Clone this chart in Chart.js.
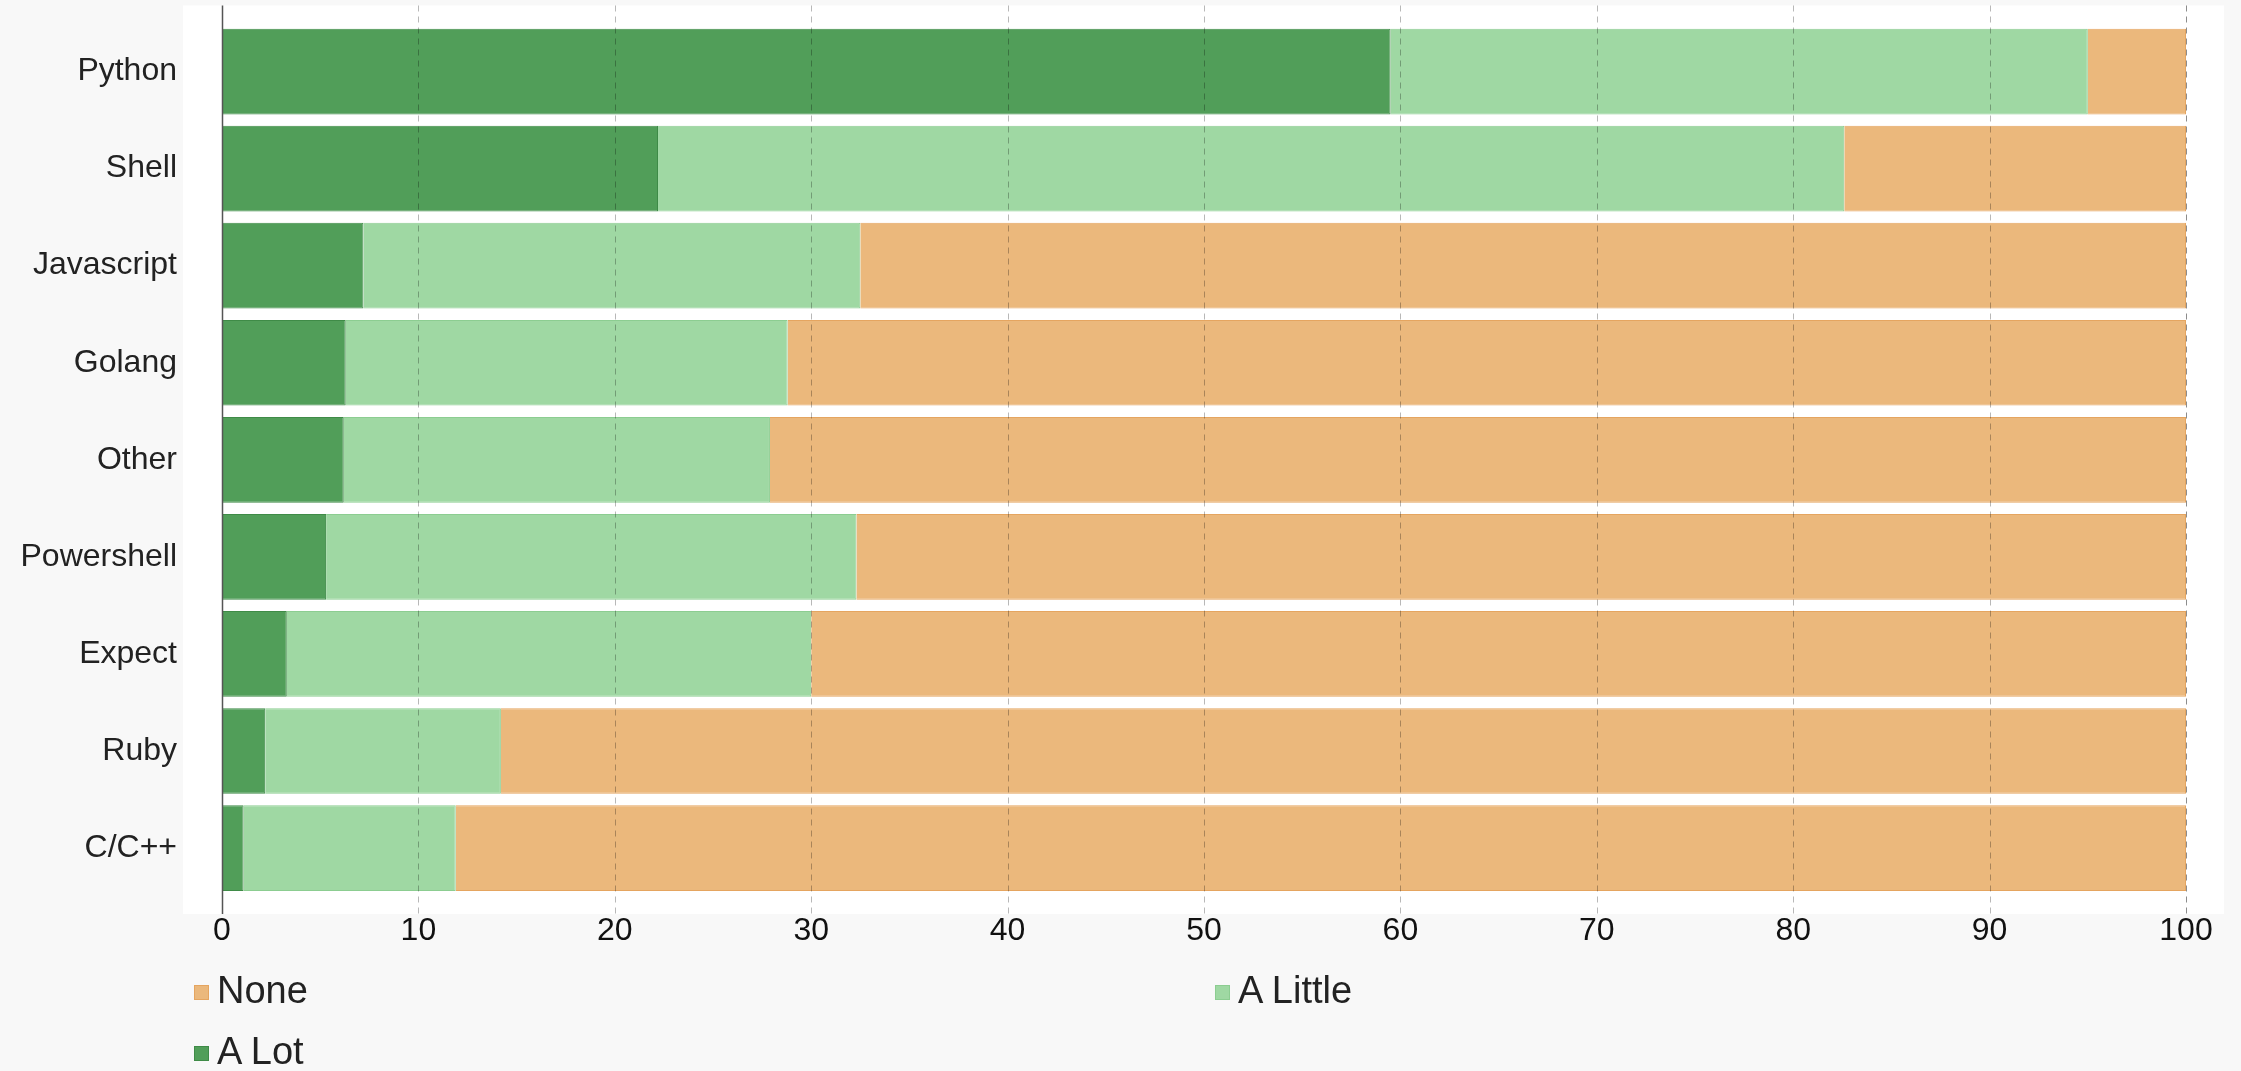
<!DOCTYPE html>
<html>
<head>
<meta charset="utf-8">
<title>Language usage</title>
<script src="https://cdn.jsdelivr.net/npm/chart.js@4.4.1/dist/chart.umd.min.js"></script>
<style>
    html, body {
        margin: 0;
        padding: 0;
        background: #f8f8f8;
        font-family: "Liberation Sans", Arial, Helvetica, sans-serif;
    }
    #wrap {
        position: relative;
        width: 2241px;
        height: 1071px;
        overflow: hidden;
    }
    #chart {
        position: absolute;
        left: 0;
        top: 0;
    }
    #legend {
        position: absolute;
        left: 183px;
        top: 960px;
        width: 2042px;
        display: grid;
        grid-template-columns: 1fr 1fr;
    }
    .legend-item {
        display: flex;
        align-items: center;
        padding-left: 11px;
        height: 61px;
        line-height: 61px;
        font-size: 38px;
        color: #222;
    }
    .legend-box {
        width: 13px;
        height: 13px;
        margin-right: 8px;
        margin-top: 3px;
        border: 1px solid;
    }
</style>
</head>
<body>
<div id="wrap">
    <canvas id="chart" width="2241" height="1071"></canvas>
    <div id="legend"></div>
</div>
<script>
// categories, top to bottom
const categories = ['Python', 'Shell', 'Javascript', 'Golang', 'Other', 'Powershell', 'Expect', 'Ruby', 'C/C++'];

// share of answers (%)
const aLot    = [59.5, 22.2,  7.2,  6.3,  6.2,  5.3,  3.3,  2.2,  1.1];
const aLittle = [35.5, 60.4, 25.3, 22.5, 21.7, 27.0, 26.7, 12.0, 10.8];
const none    = [ 5.0, 17.4, 67.5, 71.2, 72.1, 67.7, 70.0, 85.8, 88.1];

// x axis tick labels
const xTickValues = [0, 10, 20, 30, 40, 50, 60, 70, 80, 90, 100];

const COLORS = {
    lot:    { fill: '#519e59', border: '#3f8b47' },
    little: { fill: '#9fd8a3', border: '#8ccd91' },
    none:   { fill: '#ebb87c', border: '#e5a560' }
};

Chart.defaults.font.family = '"Liberation Sans", Arial, Helvetica, sans-serif';

// white plot panel + dashed grid drawn over the bars
const plotFrame = {
    id: 'plotFrame',
    beforeDraw(chart) {
        const { ctx, chartArea: a } = chart;
        ctx.save();
        ctx.fillStyle = '#ffffff';
        ctx.fillRect(a.left - 39, a.top - 17.5, (a.right - a.left) + 77, (a.bottom - a.top) + 35);
        ctx.restore();
    },
    afterDatasetsDraw(chart) {
        const { ctx, chartArea: a, scales } = chart;
        const x = scales.x;
        const top = a.top - 17.5;
        const bottom = a.bottom + 17.5;
        ctx.save();
        ctx.lineWidth = 1;
        x.ticks.forEach((t) => {
            const px = Math.round(x.getPixelForValue(t.value)) + 0.5;
            ctx.beginPath();
            if (t.value === 0) {
                ctx.setLineDash([]);
                ctx.strokeStyle = '#555555';
                ctx.lineWidth = 1.5;
            } else {
                ctx.setLineDash([6, 5]);
                ctx.strokeStyle = t.value === 100 ? 'rgba(0,0,0,0.45)' : 'rgba(0,0,0,0.28)';
                ctx.lineWidth = 1;
            }
            ctx.moveTo(px, top);
            ctx.lineTo(px, bottom);
            ctx.stroke();
        });
        ctx.restore();
    }
};

// html legend, two columns, reversed dataset order
const htmlLegend = {
    id: 'htmlLegend',
    afterUpdate(chart) {
        const box = document.getElementById('legend');
        box.innerHTML = '';
        const items = chart.options.plugins.legend.labels.generateLabels(chart).slice().reverse();
        items.forEach((item) => {
            const el = document.createElement('div');
            el.className = 'legend-item';
            const sw = document.createElement('span');
            sw.className = 'legend-box';
            sw.style.background = item.fillStyle;
            sw.style.borderColor = item.strokeStyle;
            const txt = document.createElement('span');
            txt.textContent = item.text;
            el.appendChild(sw);
            el.appendChild(txt);
            box.appendChild(el);
        });
    }
};

const ctx = document.getElementById('chart').getContext('2d');

new Chart(ctx, {
    type: 'bar',
    data: {
        labels: categories,
        datasets: [
            {
                label: 'A Lot',
                data: aLot,
                backgroundColor: COLORS.lot.fill,
                borderColor: COLORS.lot.border,
                borderWidth: 1
            },
            {
                label: 'A Little',
                data: aLittle,
                backgroundColor: COLORS.little.fill,
                borderColor: COLORS.little.border,
                borderWidth: 1
            },
            {
                label: 'None',
                data: none,
                backgroundColor: COLORS.none.fill,
                borderColor: COLORS.none.border,
                borderWidth: 1
            }
        ]
    },
    options: {
        indexAxis: 'y',
        responsive: false,
        animation: false,
        devicePixelRatio: 1,
        categoryPercentage: 1,
        barPercentage: 0.883,
        layout: {
            padding: { top: 23, right: 55, bottom: 106, left: 0 }
        },
        plugins: {
            legend: { display: false },
            tooltip: { enabled: false }
        },
        scales: {
            x: {
                stacked: true,
                min: 0,
                max: 100,
                afterBuildTicks: (s) => {
                    s.ticks = xTickValues.map((v) => ({ value: v }));
                },
                grid: { display: false, drawTicks: false },
                border: { display: false },
                ticks: {
                    padding: 15,
                    color: '#111',
                    font: { size: 32 }
                }
            },
            y: {
                stacked: true,
                afterFit: (s) => {
                    s.width = 222;
                    s.paddingTop = 0;
                    s.paddingBottom = 0;
                },
                grid: { display: false, drawTicks: false },
                border: { display: false },
                ticks: {
                    padding: 45,
                    color: '#222',
                    font: { size: 32 }
                }
            }
        }
    },
    plugins: [plotFrame, htmlLegend]
});
</script>
</body>
</html>
